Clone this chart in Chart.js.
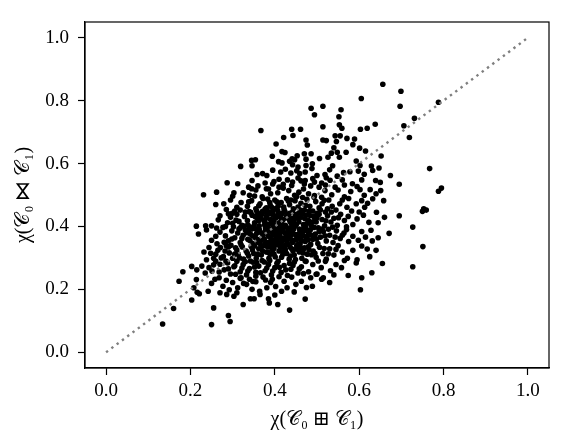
<!DOCTYPE html>
<html>
<head>
<meta charset="utf-8">
<script src="https://cdn.jsdelivr.net/npm/chart.js@4.4.0/dist/chart.umd.min.js"></script>
<style>
  body { margin: 0; background: #fff; }
  #wrap { width: 573px; height: 446px; }
</style>
</head>
<body>
<div id="wrap"><canvas id="scatterChart" width="573" height="446"></canvas></div>
<script>
// tick values shown on both axes
const xTicks = [0, 0.2, 0.4, 0.6, 0.8, 1.0];
const yTicks = [0, 0.2, 0.4, 0.6, 0.8, 1.0];
const xLabel = "χ(𝒞₀ ⊞ 𝒞₁)";
const yLabel = "χ(𝒞₀ ⋈ 𝒞₁)";

// reference line y = x
const diagonal = [[0, 0], [1, 1]];

// points: [χ(C0 ⊞ C1), χ(C0 ⋈ C1)]
const points = [
  // top, sparse
  [0.656,0.852],[0.699,0.830],[0.605,0.807],[0.788,0.795],[0.697,0.782],[0.486,0.776],[0.514,0.782],[0.557,0.771],
  [0.494,0.755],[0.552,0.749],[0.731,0.744],[0.553,0.723],[0.638,0.725],[0.706,0.720],[0.514,0.717],[0.559,0.712],
  [0.603,0.709],[0.619,0.712],[0.367,0.705],[0.440,0.709],[0.461,0.709],[0.421,0.683],[0.443,0.689],[0.719,0.683],
  [0.514,0.675],[0.543,0.688],[0.555,0.688],[0.571,0.680],[0.589,0.678],[0.474,0.675],[0.522,0.673],[0.403,0.662],
  [0.477,0.659],[0.546,0.670],[0.585,0.660],[0.601,0.649],[0.615,0.640],[0.652,0.624],[0.394,0.623],[0.417,0.638],
  [0.424,0.635],[0.470,0.631],[0.486,0.631],[0.540,0.650],[0.548,0.636],[0.534,0.633],[0.569,0.636],[0.553,0.620],
  [0.526,0.620],[0.354,0.612],[0.441,0.615],[0.453,0.625],[0.447,0.612],[0.474,0.614],[0.506,0.616],[0.435,0.607],
  [0.409,0.606],[0.417,0.602],[0.345,0.610],[0.319,0.591],[0.346,0.593],[0.442,0.596],[0.455,0.589],[0.474,0.594],
  [0.489,0.599],[0.537,0.593],[0.593,0.608],[0.602,0.594],[0.629,0.592],[0.647,0.586],[0.767,0.584],
  // 0.55 - 0.59
  [0.358,0.565],[0.371,0.568],[0.381,0.562],[0.414,0.573],[0.438,0.570],[0.459,0.568],[0.472,0.573],[0.500,0.562],
  [0.519,0.565],[0.563,0.571],[0.578,0.574],[0.598,0.576],[0.632,0.578],[0.674,0.562],[0.395,0.579],[0.425,0.582],
  [0.452,0.577],[0.488,0.584],[0.530,0.580],[0.548,0.560],[0.612,0.566],
  // 0.52 - 0.55
  [0.287,0.539],[0.312,0.536],[0.338,0.525],[0.346,0.546],[0.377,0.538],[0.398,0.543],[0.420,0.534],[0.442,0.541],
  [0.472,0.546],[0.494,0.541],[0.511,0.538],[0.531,0.547],[0.543,0.525],[0.565,0.532],[0.584,0.536],[0.606,0.548],
  [0.639,0.546],[0.695,0.534],[0.360,0.529],[0.410,0.550],[0.455,0.554],[0.485,0.529],[0.520,0.532],[0.595,0.527],
  [0.650,0.540],[0.380,0.520],[0.410,0.525],[0.440,0.530],[0.470,0.535],[0.505,0.525],[0.345,0.520],[0.395,0.535],
  [0.430,0.548],[0.462,0.545],[0.490,0.552],[0.522,0.555],[0.560,0.548],
  // 0.49 - 0.52
  [0.231,0.501],[0.303,0.507],[0.325,0.507],[0.355,0.516],[0.390,0.504],[0.407,0.507],[0.433,0.514],[0.457,0.509],
  [0.494,0.498],[0.511,0.493],[0.519,0.514],[0.580,0.511],[0.602,0.517],[0.626,0.517],[0.651,0.514],[0.788,0.512],
  [0.795,0.522],[0.300,0.496],[0.340,0.499],[0.370,0.494],[0.420,0.522],[0.447,0.499],[0.468,0.519],[0.480,0.504],
  [0.535,0.501],[0.550,0.516],[0.565,0.494],[0.612,0.499],[0.640,0.504],[0.385,0.519],[0.262,0.509],
  // 0.44 - 0.49
  [0.260,0.470],[0.279,0.472],[0.310,0.461],[0.295,0.484],[0.320,0.476],[0.335,0.464],[0.345,0.482],[0.355,0.456],
  [0.365,0.472],[0.372,0.489],[0.380,0.459],[0.388,0.476],[0.395,0.449],[0.400,0.484],[0.408,0.464],[0.415,0.476],
  [0.422,0.454],[0.428,0.489],[0.435,0.469],[0.442,0.446],[0.448,0.482],[0.455,0.462],[0.462,0.474],[0.470,0.452],
  [0.476,0.486],[0.483,0.464],[0.490,0.449],[0.497,0.479],[0.505,0.459],[0.512,0.472],[0.520,0.446],[0.528,0.484],
  [0.536,0.464],[0.545,0.452],[0.554,0.472],[0.571,0.461],[0.593,0.472],[0.613,0.461],[0.606,0.482],[0.632,0.488],
  [0.658,0.482],[0.641,0.445],[0.753,0.456],[0.759,0.452],[0.750,0.448],[0.582,0.449],[0.620,0.474],[0.330,0.446],
  [0.305,0.449],[0.285,0.454],[0.360,0.442],[0.375,0.446],[0.392,0.462],[0.418,0.442],[0.438,0.484],[0.458,0.444],
  [0.466,0.492],[0.500,0.442],[0.525,0.456],[0.560,0.484],[0.575,0.489],[0.600,0.446],
  [0.352,0.497],[0.383,0.487],[0.405,0.478],[0.432,0.481],[0.452,0.495],[0.473,0.467],[0.493,0.493],[0.517,0.483],
  [0.338,0.478],[0.362,0.466],
  // 0.40 - 0.47, dense
  [0.214,0.401],[0.236,0.402],[0.250,0.402],[0.266,0.421],[0.277,0.397],[0.270,0.434],[0.288,0.412],[0.295,0.429],
  [0.302,0.399],[0.310,0.439],[0.315,0.416],[0.322,0.404],[0.328,0.432],[0.335,0.419],[0.340,0.399],[0.346,0.436],
  [0.352,0.412],[0.358,0.426],[0.363,0.402],[0.369,0.439],[0.374,0.419],[0.380,0.432],[0.385,0.406],[0.390,0.422],
  [0.395,0.438],[0.400,0.399],[0.405,0.429],[0.410,0.412],[0.415,0.440],[0.420,0.422],[0.425,0.404],[0.430,0.434],
  [0.436,0.416],[0.441,0.426],[0.446,0.402],[0.452,0.439],[0.457,0.414],[0.462,0.429],[0.468,0.406],[0.474,0.436],
  [0.480,0.419],[0.486,0.404],[0.492,0.432],[0.498,0.414],[0.505,0.439],[0.512,0.422],[0.518,0.402],[0.525,0.434],
  [0.533,0.414],[0.540,0.426],[0.548,0.404],[0.556,0.439],[0.565,0.419],[0.574,0.432],[0.585,0.406],[0.595,0.424],
  [0.610,0.436],[0.623,0.413],[0.695,0.434],[0.727,0.398],[0.645,0.412],[0.660,0.429],[0.299,0.442],[0.318,0.396],
  [0.348,0.394],[0.378,0.396],[0.408,0.442],[0.438,0.396],[0.470,0.394],[0.503,0.396],[0.537,0.398],[0.570,0.399],
  [0.318,0.452],[0.339,0.447],[0.357,0.449],[0.366,0.428],[0.377,0.455],[0.387,0.440],[0.398,0.420],[0.403,0.458],
  [0.413,0.431],[0.424,0.447],[0.433,0.424],[0.444,0.456],[0.449,0.437],[0.460,0.452],[0.471,0.425],[0.481,0.448],
  [0.495,0.425],[0.508,0.452],[0.521,0.418],[0.534,0.446],[0.551,0.428],[0.389,0.467],[0.421,0.462],[0.444,0.418],
  [0.377,0.412],[0.396,0.409],[0.418,0.406],[0.455,0.426],[0.477,0.410],[0.500,0.428],
  [0.343,0.445],[0.353,0.432],[0.362,0.418],[0.371,0.448],[0.379,0.426],[0.384,0.447],[0.391,0.410],[0.399,0.433],
  [0.407,0.450],[0.411,0.397],[0.416,0.420],[0.427,0.430],[0.435,0.442],[0.439,0.409],[0.447,0.425],[0.451,0.406],
  [0.465,0.441],[0.473,0.397],[0.483,0.435],[0.489,0.414],[0.300,0.410],[0.283,0.400],[0.308,0.420],[0.290,0.440],
  [0.262,0.395],
  // 0.34 - 0.40, dense
  [0.219,0.376],[0.250,0.356],[0.238,0.389],[0.260,0.369],[0.270,0.382],[0.283,0.370],[0.290,0.354],[0.298,0.386],
  [0.305,0.364],[0.312,0.379],[0.318,0.349],[0.325,0.372],[0.330,0.389],[0.336,0.359],[0.342,0.376],[0.348,0.346],
  [0.354,0.364],[0.360,0.384],[0.366,0.354],[0.372,0.372],[0.378,0.389],[0.383,0.349],[0.388,0.366],[0.394,0.382],
  [0.399,0.356],[0.404,0.374],[0.409,0.344],[0.414,0.389],[0.419,0.362],[0.424,0.379],[0.429,0.349],[0.434,0.369],
  [0.440,0.386],[0.445,0.356],[0.450,0.374],[0.456,0.344],[0.461,0.364],[0.466,0.382],[0.472,0.352],[0.478,0.372],
  [0.484,0.389],[0.490,0.359],[0.496,0.376],[0.502,0.346],[0.508,0.366],[0.515,0.384],[0.522,0.354],[0.530,0.372],
  [0.538,0.349],[0.546,0.386],[0.555,0.362],[0.564,0.379],[0.575,0.352],[0.585,0.369],[0.598,0.356],[0.606,0.384],
  [0.628,0.388],[0.631,0.354],[0.671,0.378],[0.645,0.364],[0.615,0.366],[0.345,0.392],[0.402,0.392],[0.458,0.392],
  [0.512,0.392],[0.570,0.390],
  [0.327,0.401],[0.338,0.388],[0.351,0.402],[0.357,0.378],[0.363,0.391],[0.370,0.365],[0.376,0.405],[0.381,0.379],
  [0.386,0.393],[0.392,0.358],[0.397,0.373],[0.401,0.388],[0.407,0.364],[0.412,0.378],[0.417,0.353],[0.421,0.396],
  [0.427,0.369],[0.432,0.384],[0.437,0.360],[0.443,0.376],[0.448,0.401],[0.453,0.366],[0.459,0.380],[0.463,0.355],
  [0.469,0.397],[0.475,0.363],[0.481,0.383],[0.487,0.372],[0.493,0.397],[0.499,0.360],[0.505,0.384],[0.519,0.370],
  [0.527,0.391],[0.543,0.366],[0.560,0.372],[0.322,0.362],[0.333,0.380],[0.315,0.392],[0.395,0.345],[0.425,0.340],
  [0.455,0.337],[0.485,0.343],
  [0.336,0.405],[0.347,0.370],[0.356,0.392],[0.361,0.358],[0.368,0.380],[0.375,0.360],[0.380,0.398],[0.385,0.370],
  [0.391,0.385],[0.396,0.395],[0.403,0.367],[0.409,0.385],[0.414,0.365],[0.420,0.384],[0.426,0.360],[0.431,0.395],
  [0.438,0.372],[0.444,0.390],[0.451,0.358],[0.457,0.372],[0.467,0.370],[0.473,0.388],[0.479,0.358],[0.494,0.368],
  [0.280,0.350],[0.290,0.335],[0.298,0.360],[0.263,0.345],
  // 0.29 - 0.35
  [0.244,0.333],[0.271,0.333],[0.260,0.312],[0.232,0.319],[0.255,0.299],[0.265,0.324],[0.278,0.304],[0.285,0.339],
  [0.292,0.316],[0.300,0.299],[0.307,0.332],[0.313,0.312],[0.320,0.342],[0.326,0.296],[0.332,0.322],[0.338,0.306],
  [0.344,0.336],[0.350,0.314],[0.356,0.299],[0.362,0.329],[0.368,0.309],[0.374,0.339],[0.380,0.319],[0.386,0.299],
  [0.392,0.332],[0.398,0.312],[0.404,0.342],[0.410,0.322],[0.416,0.302],[0.422,0.334],[0.428,0.314],[0.434,0.296],
  [0.440,0.329],[0.446,0.309],[0.452,0.339],[0.458,0.319],[0.464,0.299],[0.470,0.332],[0.477,0.312],[0.484,0.342],
  [0.491,0.322],[0.498,0.302],[0.506,0.334],[0.514,0.314],[0.522,0.296],[0.530,0.329],[0.540,0.309],[0.550,0.339],
  [0.560,0.319],[0.572,0.299],[0.585,0.324],[0.606,0.338],[0.619,0.328],[0.751,0.336],[0.640,0.324],[0.625,0.304],
  [0.595,0.294],[0.238,0.294],
  [0.296,0.340],[0.310,0.325],[0.323,0.335],[0.335,0.315],[0.347,0.325],[0.359,0.312],[0.365,0.345],[0.371,0.322],
  [0.383,0.335],[0.389,0.312],[0.395,0.325],[0.401,0.303],[0.413,0.333],[0.419,0.312],[0.425,0.326],[0.431,0.343],
  [0.437,0.306],[0.443,0.322],[0.449,0.295],[0.461,0.333],[0.467,0.316],[0.474,0.289],[0.481,0.326],[0.495,0.315],
  [0.503,0.290],[0.517,0.330],[0.527,0.313],[0.545,0.327],[0.342,0.290],[0.375,0.287],[0.405,0.283],[0.435,0.282],
  [0.316,0.300],[0.282,0.322],[0.305,0.312],
  [0.341,0.355],[0.352,0.338],[0.360,0.350],[0.367,0.330],[0.378,0.348],[0.384,0.318],[0.391,0.345],[0.398,0.330],
  [0.406,0.352],[0.415,0.343],[0.421,0.320],[0.428,0.355],[0.436,0.335],[0.442,0.350],[0.451,0.328],[0.460,0.345],
  [0.468,0.328],[0.479,0.335],[0.487,0.310],[0.273,0.300],[0.284,0.290],[0.248,0.315],
  // 0.24 - 0.29
  [0.182,0.256],[0.203,0.273],[0.227,0.274],[0.244,0.269],[0.251,0.258],[0.270,0.280],[0.215,0.262],[0.235,0.252],
  [0.260,0.289],[0.280,0.262],[0.288,0.284],[0.295,0.249],[0.303,0.272],[0.310,0.289],[0.318,0.256],[0.325,0.279],
  [0.333,0.246],[0.340,0.266],[0.348,0.286],[0.355,0.254],[0.362,0.274],[0.370,0.292],[0.377,0.259],[0.385,0.279],
  [0.392,0.246],[0.400,0.269],[0.408,0.289],[0.415,0.254],[0.422,0.276],[0.430,0.244],[0.438,0.264],[0.446,0.286],
  [0.455,0.252],[0.463,0.272],[0.472,0.290],[0.480,0.256],[0.490,0.279],[0.500,0.249],[0.510,0.269],[0.520,0.289],
  [0.532,0.259],[0.545,0.279],[0.558,0.269],[0.574,0.244],[0.593,0.284],[0.655,0.282],[0.727,0.272],[0.630,0.253],
  [0.565,0.292],[0.540,0.246],
  [0.290,0.265],[0.307,0.248],[0.322,0.268],[0.336,0.258],[0.352,0.271],[0.366,0.253],[0.381,0.268],[0.395,0.258],
  [0.411,0.270],[0.426,0.262],[0.443,0.276],[0.458,0.265],[0.468,0.250],[0.318,0.235],[0.348,0.225],[0.378,0.230],
  [0.410,0.240],[0.268,0.255],[0.255,0.278],[0.305,0.275],[0.330,0.288],[0.357,0.285],[0.388,0.292],
  // 0.19 - 0.24
  [0.173,0.226],[0.208,0.205],[0.214,0.231],[0.216,0.191],[0.221,0.186],[0.242,0.194],[0.268,0.237],[0.277,0.210],
  [0.250,0.219],[0.258,0.232],[0.285,0.229],[0.292,0.199],[0.300,0.222],[0.312,0.205],[0.320,0.237],[0.326,0.219],
  [0.333,0.216],[0.340,0.232],[0.346,0.200],[0.355,0.224],[0.364,0.194],[0.372,0.239],[0.381,0.205],[0.390,0.222],
  [0.394,0.232],[0.402,0.209],[0.416,0.194],[0.422,0.226],[0.429,0.205],[0.440,0.239],[0.450,0.216],[0.463,0.226],
  [0.475,0.206],[0.485,0.237],[0.498,0.248],[0.515,0.237],[0.489,0.210],[0.606,0.237],[0.603,0.199],[0.511,0.232],
  [0.530,0.222],[0.355,0.242],
  // bottom, sparse
  [0.203,0.166],[0.286,0.184],[0.303,0.178],[0.342,0.170],[0.351,0.170],[0.385,0.170],[0.387,0.157],[0.325,0.152],
  [0.407,0.152],[0.446,0.192],[0.472,0.169],[0.435,0.134],[0.294,0.098],[0.290,0.117],[0.255,0.141],[0.250,0.088],
  [0.134,0.090],[0.160,0.139],[0.310,0.189],[0.400,0.182],[0.270,0.189],[0.365,0.184]
];

const serif = "'Liberation Serif', 'DejaVu Serif', serif";

// draws the closed box round the plot like matplotlib's spines
const frameBox = {
  id: 'frameBox',
  afterDatasetsDraw(chart) {
    const { ctx, chartArea: a } = chart;
    ctx.save();
    ctx.strokeStyle = '#000';
    ctx.lineWidth = 1.2;
    ctx.strokeRect(a.left, a.top, a.right - a.left, a.bottom - a.top);
    ctx.restore();
  }
};

const ctx = document.getElementById('scatterChart').getContext('2d');
new Chart(ctx, {
  type: 'scatter',
  data: {
    datasets: [
      {
        type: 'line',
        data: diagonal.map(p => ({ x: p[0], y: p[1] })),
        borderColor: '#7f7f7f',
        borderWidth: 2.4,
        borderDash: [2.4, 4.2],
        pointRadius: 0,
        fill: false,
        order: 0
      },
      {
        data: points.map(p => ({ x: p[0], y: p[1] })),
        backgroundColor: '#000',
        borderWidth: 0,
        pointRadius: 2.8,
        order: 1
      }
    ]
  },
  options: {
    responsive: false,
    animation: false,
    layout: { padding: { top: 22, right: 24, left: 0, bottom: 0 } },
    plugins: { legend: { display: false }, tooltip: { enabled: false } },
    scales: {
      x: {
        type: 'linear',
        min: -0.05,
        max: 1.05,
        afterBuildTicks: s => { s.ticks = xTicks.map(v => ({ value: v })); },
        afterFit: s => { s.height = 78; },
        grid: { drawOnChartArea: false, tickLength: 7, tickColor: '#000', tickWidth: 1.2 },
        border: { color: '#000', width: 1.2 },
        ticks: { color: '#000', padding: 5, maxRotation: 0, font: { family: serif, size: 19 }, callback: v => v.toFixed(1) },
        title: { display: true, text: xLabel, color: '#000', font: { family: serif, size: 20 }, padding: { top: 0, bottom: 14 } }
      },
      y: {
        min: -0.05,
        max: 1.05,
        afterBuildTicks: s => { s.ticks = yTicks.map(v => ({ value: v })); },
        afterFit: s => { s.width = 85; },
        grid: { drawOnChartArea: false, tickLength: 7, tickColor: '#000', tickWidth: 1.2 },
        border: { color: '#000', width: 1.2 },
        ticks: { color: '#000', padding: 9, font: { family: serif, size: 19 }, callback: v => v.toFixed(1) },
        title: { display: true, text: yLabel, color: '#000', font: { family: serif, size: 20 }, padding: { top: 12, bottom: 0 } }
      }
    }
  },
  plugins: [frameBox]
});
</script>
</body>
</html>
